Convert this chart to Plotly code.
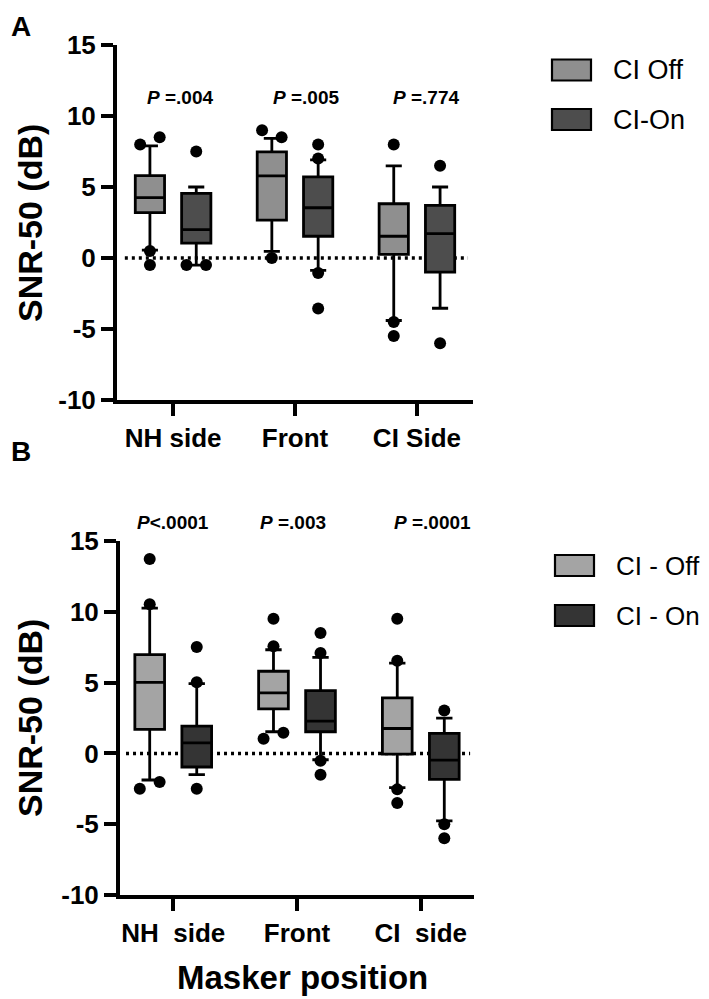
import plotly.graph_objects as go

# page body adds an 8px margin; size the figure so it fits the 709x999 window
PAGE_W, PAGE_H, BODY = 709, 999, 8
W, H = PAGE_W - BODY, PAGE_H - BODY

# ---------------- data ----------------
categories_a = ["NH side", "Front", "CI Side"]
categories_b = ["NH\u00a0\u00a0side", "Front", "CI\u00a0\u00a0side"]

# Panel A (box stats: 25th, median, 75th percentiles, whiskers)
off_a_q1 = [3.2, 2.67, 0.25]
off_a_med = [4.25, 5.78, 1.53]
off_a_q3 = [5.8, 7.48, 3.82]
off_a_lo = [0.55, 0.47, -4.4]
off_a_hi = [7.9, 8.42, 6.49]
off_a_out = [[8.0, 8.5, 0.5, -0.5], [9.0, 8.5, 0.0], [8.0, -4.5, -5.5]]

on_a_q1 = [1.05, 1.53, -0.99]
on_a_med = [2.0, 3.54, 1.72]
on_a_q3 = [4.55, 5.71, 3.7]
on_a_lo = [-0.5, -0.87, -3.54]
on_a_hi = [5.0, 6.91, 5.0]
on_a_out = [[7.5, -0.5, -0.5], [8.0, 7.0, -1.05, -3.55], [6.5, -6.0]]

p_a = ["<b><i>P</i> =.004</b>", "<b><i>P</i> =.005</b>", "<b><i>P</i> =.774</b>"]

# Panel B
off_b_q1 = [1.69, 3.15, -0.05]
off_b_med = [5.02, 4.27, 1.76]
off_b_q3 = [6.97, 5.8, 3.92]
off_b_lo = [-1.88, 1.53, -2.42]
off_b_hi = [10.26, 7.32, 6.38]
off_b_out = [[13.73, 10.54, -2.49, -2.02], [9.51, 7.56, 1.03, 1.46], [9.51, 6.55, -2.54, -3.5]]

on_b_q1 = [-0.96, 1.53, -1.83]
on_b_med = [0.75, 2.28, -0.47]
on_b_q3 = [1.92, 4.44, 1.41]
on_b_lo = [-1.5, -0.45, -4.77]
on_b_hi = [4.93, 6.78, 2.49]
on_b_out = [[7.51, 5.02, -2.49], [8.5, 7.09, -0.52, -1.5], [3.03, -5.0, -6.0]]

p_b = ["<b><i>P</i>&lt;.0001</b>", "<b><i>P</i> =.003</b>", "<b><i>P</i> =.0001</b>"]

legend_a = ["CI Off", "CI-On"]
legend_b = ["CI - Off", "CI - On"]

y_ticks = [-10, -5, 0, 5, 10, 15]

# ---------------- style ----------------
COL_A = ["#8f8f8f", "#4d4d4d"]
COL_B = ["#a4a4a4", "#343434"]
OFFSET = 0.19
BOXW = 0.24
JIT = 0.08
FONT = "Liberation Sans"


def px(x):
    return (x - BODY) / W


def py(y):
    return 1 - (y - BODY) / H


def jitter(vals):
    """spread neighbouring outliers with near-equal values side by side"""
    groups = []
    for v in vals:
        if groups and abs(groups[-1][-1] - v) < 0.75:
            groups[-1].append(v)
        else:
            groups.append([v])
    offs = []
    for g in groups:
        n = len(g)
        for k in range(n):
            offs.append((k - (n - 1) / 2) * 2 * JIT if n > 1 else 0.0)
    return offs


fig = go.Figure()


def add_panel(xa, ya, cats, stats, outs, cols):
    for s, (st, out, col) in enumerate(zip(stats, outs, cols)):
        q1, med, q3, lo, hi = st
        off = -OFFSET if s == 0 else OFFSET
        pos = [i + off for i in range(len(cats))]
        fig.add_trace(go.Box(
            x=pos, q1=q1, median=med, q3=q3, lowerfence=lo, upperfence=hi,
            width=BOXW, whiskerwidth=0.55, fillcolor=col,
            line=dict(color="black", width=2.8), boxpoints=False,
            xaxis=xa, yaxis=ya, showlegend=False, hoverinfo="skip"))
        xs, ys = [], []
        for i, vals in enumerate(out):
            for v, d in zip(vals, jitter(vals)):
                xs.append(i + off + d)
                ys.append(v)
        fig.add_trace(go.Scatter(
            x=xs, y=ys, mode="markers", xaxis=xa, yaxis=ya,
            marker=dict(color="black", size=12), showlegend=False,
            hoverinfo="skip", cliponaxis=False))


add_panel("x", "y", categories_a,
          [(off_a_q1, off_a_med, off_a_q3, off_a_lo, off_a_hi),
           (on_a_q1, on_a_med, on_a_q3, on_a_lo, on_a_hi)],
          [off_a_out, on_a_out], COL_A)
add_panel("x2", "y2", categories_b,
          [(off_b_q1, off_b_med, off_b_q3, off_b_lo, off_b_hi),
           (on_b_q1, on_b_med, on_b_q3, on_b_lo, on_b_hi)],
          [off_b_out, on_b_out], COL_B)

axis_common = dict(showline=True, linewidth=4, linecolor="black", ticks="outside",
                   ticklen=12, tickwidth=4, tickcolor="black", showgrid=False,
                   zeroline=False, fixedrange=True, automargin=False)

xfont = dict(family=FONT, size=26, color="black", weight="bold")
yfont = dict(family=FONT, size=26, color="black", weight="bold")

fig.update_layout(
    width=W, height=H, margin=dict(l=0, r=0, t=0, b=0, pad=0, autoexpand=False),
    paper_bgcolor="white", plot_bgcolor="white", showlegend=False,
    xaxis=dict(domain=[px(117), px(473)], range=[-0.46, 2.46], anchor="y",
               tickvals=list(range(3)), ticktext=categories_a, tickfont=xfont,
               **axis_common),
    yaxis=dict(domain=[py(400), py(45)], range=[-10, 15], anchor="x",
               tickvals=y_ticks, ticktext=[str(t) for t in y_ticks], tickfont=yfont,
               **axis_common),
    xaxis2=dict(domain=[px(120), px(474)], range=[-0.43, 2.43], anchor="y2",
                tickvals=list(range(3)), ticktext=categories_b, tickfont=xfont,
                **axis_common),
    yaxis2=dict(domain=[py(895), py(541)], range=[-10, 15], anchor="x2",
                tickvals=y_ticks, ticktext=[str(t) for t in y_ticks], tickfont=yfont,
                **axis_common),
)

# zero reference lines
for xr, yr, x0, x1 in [("x domain", "y", 0.022, 0.986), ("x2 domain", "y2", 0.017, 0.989)]:
    fig.add_shape(type="line", xref=xr, yref=yr, x0=x0, x1=x1, y0=0, y1=0,
                  line=dict(color="black", width=3.5, dash="3px,4px"), layer="below")

ann = []
# panel letters
ann.append(dict(x=px(9), y=py(9), text="<b>A</b>", xanchor="left", yanchor="top",
                font=dict(family=FONT, size=28, color="black")))
ann.append(dict(x=px(9), y=py(451), text="<b>B</b>", xanchor="left", yanchor="middle",
                font=dict(family=FONT, size=28, color="black")))
# y titles
for yc in [223, 718]:
    ann.append(dict(x=px(30), y=py(yc), text="<b>SNR-50 (dB)</b>", textangle=-90,
                    xanchor="center", yanchor="middle",
                    font=dict(family=FONT, size=34, color="black")))
# x title
ann.append(dict(x=px(302), y=py(977), text="<b>Masker position</b>", xanchor="center",
                yanchor="middle", font=dict(family=FONT, size=33, color="black")))
# p values
for txt, xc in zip(p_a, [180, 306, 426]):
    ann.append(dict(x=px(xc), y=py(98), text=txt, xanchor="center", yanchor="middle",
                    font=dict(family=FONT, size=19, color="black")))
for txt, xc in zip(p_b, [173, 293, 432]):
    ann.append(dict(x=px(xc), y=py(522), text=txt, xanchor="center", yanchor="middle",
                    font=dict(family=FONT, size=19, color="black")))

# legends
for labels, cols, bx, by, tx, fs in [(legend_a, COL_A, 552, [70, 119.5], 611, 27),
                                     (legend_b, COL_B, 555, [565.5, 615.5], 614, 26)]:
    for lab, col, yc in zip(labels, cols, by):
        fig.add_shape(type="rect", xref="paper", yref="paper",
                      x0=px(bx), x1=px(bx + 39), y0=py(yc + 10.5), y1=py(yc - 10.5),
                      fillcolor=col, line=dict(color="black", width=2.2))
        ann.append(dict(x=px(tx), y=py(yc), text=lab, xanchor="left", yanchor="middle",
                        font=dict(family=FONT, size=fs, color="black")))

for a in ann:
    a.update(xref="paper", yref="paper", showarrow=False)
fig.update_layout(annotations=ann)

fig.write_html("out.html")
